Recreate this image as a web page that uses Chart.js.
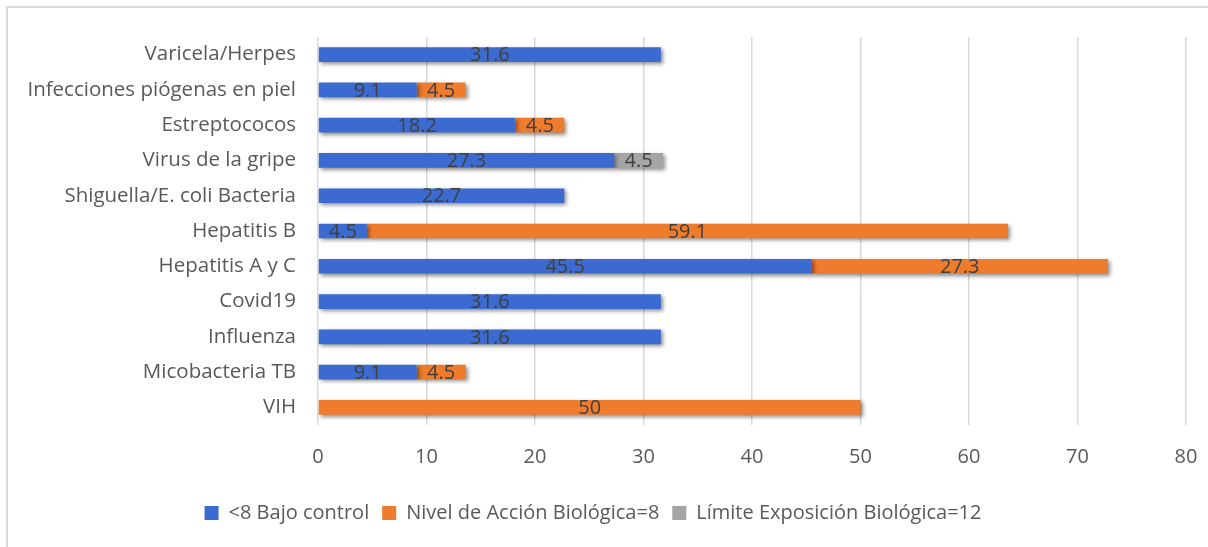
<!DOCTYPE html>
<html lang="es">
<head>
    <meta charset="UTF-8">
    <title>Agentes biológicos</title>
    <script src="https://cdn.jsdelivr.net/npm/chart.js"></script>
    <style>
        html, body {
            margin: 0;
            padding: 0;
            background: #ffffff;
            overflow: hidden;
        }
        .frame {
            position: absolute;
            left: 6px;
            top: 6px;
            width: 1300px;
            height: 700px;
            border-left: 2px solid #d9d9d9;
            border-top: 2px solid #d9d9d9;
        }
        .chart-box {
            position: absolute;
            left: 0;
            top: 0;
            width: 1208px;
            height: 547px;
        }
    </style>
</head>
<body>
    <div class="frame"></div>
    <div class="chart-box">
        <canvas id="riesgoChart"></canvas>
    </div>

    <script>
        const categorias = [
            'Varicela/Herpes',
            'Infecciones piógenas en piel',
            'Estreptococos',
            'Virus de la gripe',
            'Shiguella/E. coli Bacteria',
            'Hepatitis B',
            'Hepatitis A y C',
            'Covid19',
            'Influenza',
            'Micobacteria TB',
            'VIH'
        ];
        const bajoControl = [31.6, 9.1, 18.2, 27.3, 22.7, 4.5, 45.5, 31.6, 31.6, 9.1, null];
        const nivelAccion = [null, 4.5, 4.5, null, null, 59.1, 27.3, null, null, 4.5, 50];
        const limiteExposicion = [null, null, null, 4.5, null, null, null, null, null, null, null];
        const ticksX = [0, 10, 20, 30, 40, 50, 60, 70, 80];

        const colores = {
            azul: '#3b6bd0',
            naranja: '#ef7b2d',
            gris: '#a5a5a5',
            texto: '#595959',
            etiqueta: '#404040',
            rejilla: '#d9d9d9'
        };

        const fuente = "'Open Sans', 'Noto Sans', sans-serif";

        // sombra suave bajo las barras
        const sombraBarras = {
            id: 'sombraBarras',
            beforeDatasetDraw(chart) {
                const ctx = chart.ctx;
                ctx.save();
                ctx.shadowColor = 'rgba(0,0,0,0.45)';
                ctx.shadowBlur = 4;
                ctx.shadowOffsetX = 2;
                ctx.shadowOffsetY = 2;
            },
            afterDatasetDraw(chart) {
                chart.ctx.restore();
            }
        };

        // etiquetas de valor centradas en cada segmento
        const etiquetasValor = {
            id: 'etiquetasValor',
            afterDatasetsDraw(chart) {
                const ctx = chart.ctx;
                ctx.save();
                ctx.font = '20px ' + fuente;
                ctx.fillStyle = colores.etiqueta;
                ctx.textAlign = 'center';
                ctx.textBaseline = 'middle';
                chart.data.datasets.forEach((ds, i) => {
                    const meta = chart.getDatasetMeta(i);
                    meta.data.forEach((bar, j) => {
                        const v = ds.data[j];
                        if (v === null || v === undefined) return;
                        const cx = (bar.x + bar.base) / 2;
                        ctx.fillText(String(v), cx, bar.y + 1);
                    });
                });
                ctx.restore();
            }
        };

        new Chart(document.getElementById('riesgoChart'), {
            type: 'bar',
            data: {
                labels: categorias,
                datasets: [
                    {
                        label: '<8 Bajo control',
                        data: bajoControl,
                        backgroundColor: colores.azul
                    },
                    {
                        label: 'Nivel de Acción Biológica=8',
                        data: nivelAccion,
                        backgroundColor: colores.naranja
                    },
                    {
                        label: 'Límite Exposición Biológica=12',
                        data: limiteExposicion,
                        backgroundColor: colores.gris
                    }
                ]
            },
            options: {
                indexAxis: 'y',
                responsive: true,
                maintainAspectRatio: false,
                animation: false,
                datasets: {
                    bar: {
                        barPercentage: 0.8,
                        categoryPercentage: 0.52,
                        borderWidth: 0
                    }
                },
                layout: {
                    padding: { top: 37, right: 22, bottom: 14, left: 0 }
                },
                scales: {
                    x: {
                        stacked: true,
                        min: 0,
                        max: 80,
                        afterBuildTicks(scale) {
                            scale.ticks = ticksX.map(v => ({ value: v }));
                        },
                        afterFit(scale) {
                            scale.height = scale.height + 1;
                            scale.paddingRight = 0;
                            scale.paddingLeft = 0;
                        },
                        grid: {
                            color: colores.rejilla,
                            lineWidth: 1.5,
                            drawTicks: false
                        },
                        border: { display: false },
                        ticks: {
                            color: colores.texto,
                            font: { family: fuente, size: 20 },
                            padding: 20
                        }
                    },
                    y: {
                        stacked: true,
                        afterFit(scale) {
                            scale.width = 318;
                        },
                        grid: { display: false },
                        border: { display: false },
                        ticks: {
                            color: colores.texto,
                            font: { family: fuente, size: 20.5 },
                            padding: 14
                        }
                    }
                },
                plugins: {
                    legend: {
                        position: 'bottom',
                        labels: {
                            color: colores.texto,
                            font: { family: fuente, size: 20 },
                            boxWidth: 14,
                            boxHeight: 14,
                            padding: 13
                        }
                    },
                    tooltip: { enabled: false }
                }
            },
            plugins: [sombraBarras, etiquetasValor]
        });
    </script>
</body>
</html>
